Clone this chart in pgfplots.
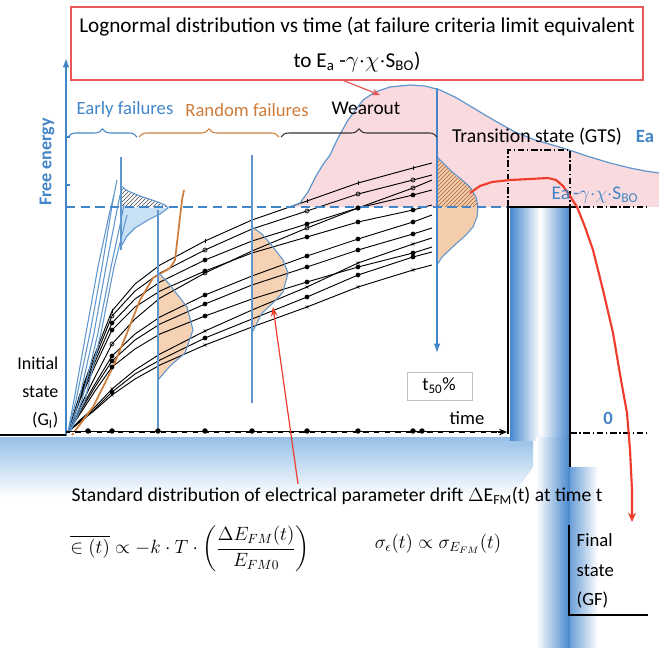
\documentclass[border=0pt]{standalone}
\usepackage{amsmath}
\usepackage{pgfplots}
\pgfplotsset{compat=1.18}
\usepackage{fontspec}
\setmainfont{Carlito}
\usetikzlibrary{patterns,decorations.pathreplacing,arrows.meta}
\definecolor{mblue}{RGB}{66,133,200}
\definecolor{cblue}{RGB}{95,150,205}
\definecolor{morange}{RGB}{205,125,60}
\definecolor{lorange}{RGB}{244,206,172}
\definecolor{mpink}{RGB}{249,218,222}
\definecolor{tred}{RGB}{232,88,88}
\definecolor{mred}{RGB}{238,60,45}
\definecolor{pblue}{RGB}{70,135,205}
\definecolor{gblue}{RGB}{150,192,232}
\definecolor{lblue}{RGB}{200,225,245}
\definecolor{hbrown}{RGB}{170,95,55}
\begin{document}
\begin{tikzpicture}
\begin{axis}[width=494.25pt,height=486pt,scale only axis,hide axis,
  xmin=0,xmax=659,ymin=0,ymax=648,y dir=reverse]
% background
\addplot[draw=none,fill=white] coordinates {(0,0)(659,0)(659,648)(0,648)} --cycle;
% pink lognormal area
\addplot[draw=none,fill=mpink] coordinates {(290,207)(300,203)(308,192)(315,178)(322,166)(330,155)(338,138)(348,120)(363,100)(375,92)(390,87)(410,85)(425,86)(440,90)(455,97)(470,106)(485,115)(497,122)(515,132)(535,140)(563,148)(590,157)(610,163)(630,168)(645,171)(659,173)(659,207)} --cycle;
% ground band
\addplot[draw=none,top color=gblue,bottom color=white] coordinates {(0,437)(533,437)(533,467)(512,497)(0,497)} --cycle;
% pillar
\addplot[draw=none,left color=pblue,right color=pblue,middle color=white] coordinates {(510,207)(570,207)(570,440)(510,440)} --cycle;
\addplot[draw=none,left color=white,right color=pblue] coordinates {(536,437)(570,437)(570,648)(536,648)} --cycle;
\addplot[draw=none,left color=pblue!80,right color=white] coordinates {(570,467)(598,467)(598,648)(570,648)} --cycle;
% distribution fills
\addplot[draw=none,fill=lorange,opacity=0.9] coordinates {(158,272)(170,285)(187,307)(193,330)(185,353)(170,366)(158,380)} --cycle;
\addplot[draw=none,fill=lorange,opacity=0.9] coordinates {(252,227)(262,234)(273,247)(283,260)(288,273)(283,292)(273,303)(262,313)(252,333)} --cycle;
\addplot[draw=none,fill=lorange] coordinates {(437,207)(478,207)(477,217)(473,227)(465,236)(457,243)(442,257)(437,265)} --cycle;
\addplot[draw=none,fill=lorange] coordinates {(437,157)(450,170)(462,180)(470,187)(476,197)(478,207)(437,207)} --cycle;
\addplot[draw=none,pattern=north east lines,pattern color=hbrown] coordinates {(437,157)(450,170)(462,180)(470,187)(476,197)(478,207)(437,207)} --cycle;
\addplot[draw=none,fill=lblue] coordinates {(121,207)(168,208)(160,214)(148,220)(135,228)(127,236)(122,245)(121,250)} --cycle;
\addplot[draw=none,pattern=north east lines,pattern color=black!70] coordinates {(121,186)(128,191)(140,196)(155,201)(165,205)(168,207)(121,207)} --cycle;
% black drift lines
\pgfplotsset{drift/.style={black,line width=0.7pt,mark indices={4,7,9,10,11},mark size=1.5pt,mark options={solid,black,line width=0.5pt}}}
\addplot[drift,mark=|] coordinates {(68,432)(80,394)(95,354)(112,311)(135,284)(160,265)(205,241)(252,220)(307,201)(358,183)(413,168)(432,163)};
\addplot[drift,mark=o] coordinates {(68,432)(80,396)(95,358)(112,316)(135,291)(160,273)(205,250)(252,229)(307,211)(358,194)(413,180)(432,175)};
\addplot[drift,mark=*] coordinates {(68,432)(80,398)(95,362)(112,323)(135,299)(160,282)(205,260)(252,241)(307,224)(358,208)(413,195)(432,190)};
\addplot[drift,mark=o] coordinates {(68,432)(80,407)(95,377)(112,344)(135,319)(160,298)(205,273)(252,251)(307,228)(358,208)(413,188)(432,180)};
\addplot[drift,mark=*] coordinates {(68,432)(80,400)(95,366)(112,330)(135,307)(160,291)(205,271)(252,253)(307,237)(358,222)(413,210)(432,205)};
\addplot[drift,mark=*] coordinates {(68,432)(80,410)(95,384)(112,356)(135,334)(160,317)(205,295)(252,276)(307,256)(358,239)(413,222)(432,215)};
\addplot[drift,mark=*] coordinates {(68,432)(80,412)(95,387)(112,361)(135,340)(160,324)(205,304)(252,285)(307,267)(358,250)(413,234)(432,228)};
\addplot[drift,mark=x] coordinates {(68,432)(80,420)(95,407)(112,389)(135,370)(160,354)(205,331)(252,310)(307,287)(358,263)(413,244)(432,238)};
\addplot[drift,mark=*] coordinates {(68,432)(80,414)(95,391)(112,367)(135,349)(160,334)(205,316)(252,299)(307,282)(358,267)(413,253)(432,247)};
\addplot[drift,mark=x] coordinates {(68,432)(80,422)(95,410)(112,395)(135,379)(160,365)(205,345)(252,327)(307,307)(358,287)(413,270)(432,265)};
\addplot[drift,mark=*] coordinates {(68,432)(80,421)(95,409)(112,392)(135,374)(160,360)(205,338)(252,319)(307,297)(358,275)(413,257)(432,252)};
% early failure blue lines
\addplot[cblue,line width=0.8pt] coordinates {(68,432)(76,400)(90,333)(102,267)(113,200)(117,180)};
\addplot[cblue,line width=0.8pt] coordinates {(69,432)(79,400)(94,333)(106,267)(117,210)(120,195)};
\addplot[cblue,line width=0.8pt] coordinates {(70,432)(82,400)(98,333)(111,267)(120,225)(124,205)};
\addplot[cblue,line width=0.8pt] coordinates {(70,432)(85,400)(101,333)(114,267)(122,235)(127,215)};
\addplot[cblue,line width=0.8pt] coordinates {(68,432)(74,400)(86,333)(98,267)(109,215)(114,195)};
% orange random failure line
\addplot[morange,line width=1.3pt] coordinates {(72,435)(93,407)(113,367)(127,333)(140,300)(153,278)(170,268)(175,260)(177,243)(182,200)(184,190)};
% distribution outlines and vertical lines
\addplot[cblue,line width=0.8pt] coordinates {(158,210)(158,433)};
\addplot[cblue,line width=0.8pt] coordinates {(158,272)(170,285)(187,307)(193,330)(185,353)(170,366)(158,380)};
\addplot[cblue,line width=0.8pt] coordinates {(252,155)(252,403)};
\addplot[cblue,line width=0.8pt] coordinates {(252,227)(262,234)(273,247)(283,260)(288,273)(283,292)(273,303)(262,313)(252,333)};
\addplot[cblue,line width=0.8pt] coordinates {(121,157)(121,250)};
\addplot[cblue,line width=0.8pt] coordinates {(121,186)(128,191)(140,196)(155,201)(165,205)(168,208)(160,214)(148,220)(135,228)(127,236)(122,245)};
\addplot[cblue,line width=0.8pt] coordinates {(437,157)(450,170)(462,180)(470,187)(476,197)(478,207)(477,217)(473,227)(465,236)(457,243)(442,257)(437,265)};
\addplot[mblue,line width=1pt,-{Latex[length=7pt,width=5pt]}] coordinates {(437,88)(437,353)};
% lognormal curve
\addplot[cblue,line width=0.9pt] coordinates {(290,207)(300,203)(308,192)(315,178)(322,166)(330,155)(338,138)(348,120)(363,100)(375,92)(390,87)(410,85)(425,86)(440,90)(455,97)(470,106)(485,115)(497,122)(515,132)(535,140)(563,148)(590,157)(610,163)(630,168)(645,171)(659,173)};
% failure criterion dashed line
\addplot[mblue,line width=1.1pt,dash pattern=on 7pt off 4pt] coordinates {(66,207)(508,207)};
\addplot[black,line width=1.1pt,dash pattern=on 5pt off 2pt on 1pt off 2pt] coordinates {(570,207)(648,207)};
% y axis
\addplot[mblue,line width=1.1pt,-{Latex[length=7pt,width=5pt]}] coordinates {(66,436)(66,58)};
\addplot[mblue,line width=0.8pt] coordinates {(66,137)(70,137)};
\addplot[mblue,line width=0.8pt] coordinates {(66,185)(70,185)};
% baseline
\addplot[black,line width=2pt] coordinates {(0,435)(66,435)};
\addplot[black,line width=1.8pt,-{Stealth[length=6pt,width=5pt]}] coordinates {(66,432)(507,432)};
\addplot[white,line width=0.6pt,dash pattern=on 4pt off 4pt] coordinates {(70,432)(498,432)};
\addplot[only marks,mark=*,mark size=1.8pt,black] coordinates {(88,431)(112,431)(158,431)(205,431)(252,431)(307,431)(358,431)(413,431)(422,431)};
% pillar outline and GTS box
\addplot[black,line width=1.5pt] coordinates {(508,434)(508,207)(570,207)(570,467)};
\addplot[black,line width=1.1pt,dash pattern=on 5pt off 2pt on 1pt off 2pt] coordinates {(508,207)(508,150)(570,150)(570,207)};
\addplot[black,line width=1.1pt,dash pattern=on 5pt off 2pt on 1pt off 2pt] coordinates {(570,433)(648,433)};
\addplot[black,line width=1.5pt] coordinates {(569,525)(569,615)(648,615)};
% red curves
\addplot[mred,line width=1.6pt,-{Stealth[length=7pt,width=6pt]}] coordinates {(470,193)(480,186)(492,182)(510,180)(530,179)(548,178)(556,180)(563,186)(570,196)(577,207)(585,227)(593,250)(603,290)(613,333)(621,380)(627,413)(630,450)(632,490)(632,522)};
\addplot[mred,line width=0.9pt,-{Stealth[length=7pt,width=5pt]}] coordinates {(298,484)(273,307)};
\addplot[tred,line width=0.9pt,-{Stealth[length=6pt,width=5pt]}] coordinates {(342,80)(380,95)};
% title box
\addplot[draw=tred,fill=white,line width=1.2pt] coordinates {(71,7)(643,7)(643,80)(71,80)} --cycle;
% t50 box
\addplot[draw=black!25,fill=white,line width=0.6pt] coordinates {(407,372)(472,372)(472,400)(407,400)} --cycle;
% braces
\addplot[mblue,line width=0.8pt,decorate,decoration={brace,amplitude=6pt}] coordinates {(68,137)(137,137)};
\addplot[morange,line width=0.8pt,decorate,decoration={brace,amplitude=6pt}] coordinates {(139,137)(279,137)};
\addplot[black!80,line width=0.8pt,decorate,decoration={brace,amplitude=6pt}] coordinates {(281,137)(437,137)};
% texts
\node[font=\fontsize{15.9}{18}\selectfont] at (axis cs:357,27) {Lognormal distribution vs time (at failure criteria limit equivalent};
\node[font=\fontsize{15.9}{18}\selectfont] at (axis cs:357,62) {to E\textsubscript{a} -$\gamma{\cdot}\chi{\cdot}$S\textsubscript{BO})};
\node[font=\fontsize{14}{16}\selectfont,text=mblue] at (axis cs:125,110) {Early failures};
\node[font=\fontsize{14}{16}\selectfont,text=morange] at (axis cs:247,110) {Random failures};
\node[font=\fontsize{14.5}{16}\selectfont] at (axis cs:366,108) {Wearout};
\node[font=\fontsize{13.5}{16}\selectfont\bfseries,text=mblue,rotate=90] at (axis cs:47,162) {Free energy};
\node[font=\fontsize{14.8}{17}\selectfont] at (axis cs:537,137) {Transition state (GTS)};
\node[font=\fontsize{14}{16}\selectfont\bfseries,text=mblue] at (axis cs:645,137) {Ea};
\node[font=\fontsize{14.5}{16}\selectfont,text=mblue] at (axis cs:595,195) {Ea\,-$\gamma{\cdot}\chi{\cdot}$S\textsubscript{BO}};
\node[font=\fontsize{13.5}{21}\selectfont,anchor=east,align=right] at (axis cs:63,393) {Initial\\state\\(G\textsubscript{I})};
\node[font=\fontsize{14}{16}\selectfont] at (axis cs:439,386) {t\textsubscript{50}\%};
\node[font=\fontsize{14}{16}\selectfont] at (axis cs:467,418) {time};
\node[font=\fontsize{14}{16}\selectfont\bfseries,text=mblue] at (axis cs:608,418) {0};
\node[font=\fontsize{14}{22}\selectfont,anchor=west,align=left] at (axis cs:572,571) {Final\\state\\(GF)};
\node[font=\fontsize{14.7}{17}\selectfont,inner sep=0pt] at (axis cs:337,496) {Standard distribution of electrical parameter drift $\Delta$E\textsubscript{FM}(t) at time t};
\node[font=\fontsize{14}{16}\selectfont,anchor=west,inner sep=0pt] at (axis cs:70,549) {$\overline{\in(t)}\propto -k\cdot T\cdot\left(\dfrac{\Delta E_{FM}(t)}{E_{FM0}}\right)$};
\node[font=\fontsize{14.5}{16}\selectfont,inner sep=0pt] at (axis cs:438,544) {$\sigma_\epsilon(t)\propto\sigma_{E_{FM}}(t)$};
\end{axis}
\end{tikzpicture}
\end{document}
